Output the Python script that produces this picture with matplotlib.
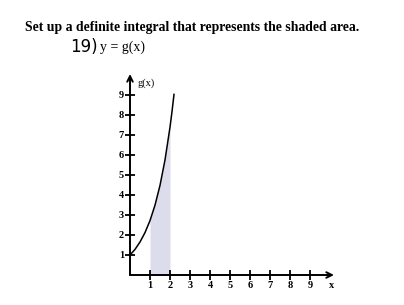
import matplotlib
matplotlib.use("Agg")
import matplotlib.pyplot as plt

# curve points
curve_x = [0, 0.25, 0.5, 0.75, 1.0, 1.25, 1.5, 1.75, 2.0, 2.1, 2.2]
curve_y = [1.0, 1.28, 1.65, 2.12, 2.72, 3.49, 4.48, 5.75, 7.39, 8.17, 9.03]
shade_from, shade_to = 1, 2
x_ticks = [1, 2, 3, 4, 5, 6, 7, 8, 9]
y_ticks = [1, 2, 3, 4, 5, 6, 7, 8, 9]

fig = plt.figure(figsize=(4.04, 3.05), dpi=100)
ax = fig.add_axes([0, 0, 1, 1])
ax.set_xlim(-6.5, 13.7)
ax.set_ylim(-1.5, 13.75)
ax.axis('off')

serif = ['Liberation Serif', 'DejaVu Serif']

# axes with arrows
ax.annotate('', xy=(10.2, 0), xytext=(0, 0),
            arrowprops=dict(arrowstyle='->', lw=1.4, color='black', shrinkA=0, shrinkB=0))
ax.annotate('', xy=(0, 10.05), xytext=(0, 0),
            arrowprops=dict(arrowstyle='->', lw=1.4, color='black', shrinkA=0, shrinkB=0))

# ticks
ax.plot(x_ticks, [0] * len(x_ticks), ls='none', marker='|', ms=6.5, mew=1.3, color='black')
ax.plot([0] * len(y_ticks), y_ticks, ls='none', marker='_', ms=6.5, mew=1.3, color='black')
for t in x_ticks:
    ax.text(t, -0.55, str(t), ha='center', va='center', fontsize=7.5, family=serif, weight='bold')
for t in y_ticks:
    ax.text(-0.3, t, str(t), ha='right', va='center', fontsize=7.5, family=serif, weight='bold')
ax.text(10.1, -0.55, 'x', ha='center', va='center', fontsize=7.5, family=serif, weight='bold')
ax.text(0.35, 9.6, 'g(x)', ha='left', va='center', fontsize=7.5, family=serif)

# shaded region and curve
sx = [x for x in curve_x if shade_from <= x <= shade_to]
sy = [y for x, y in zip(curve_x, curve_y) if shade_from <= x <= shade_to]
ax.fill_between(sx, 0, sy, color='#dcdcec', lw=0)
ax.plot(curve_x, curve_y, color='black', lw=1.1)

# header text
fig.text(25 / 404, 1 - 28 / 305, 'Set up a definite integral that represents the shaded area.',
         ha='left', va='center', fontsize=9.9, family=serif, weight='bold')
fig.text(70 / 404, 1 - 47 / 305, '19)', ha='left', va='center', fontsize=12, family='DejaVu Sans')
fig.text(100 / 404, 1 - 47 / 305, 'y = g(x)', ha='left', va='center', fontsize=10, family=serif)

fig.savefig('out.png', dpi=100)
